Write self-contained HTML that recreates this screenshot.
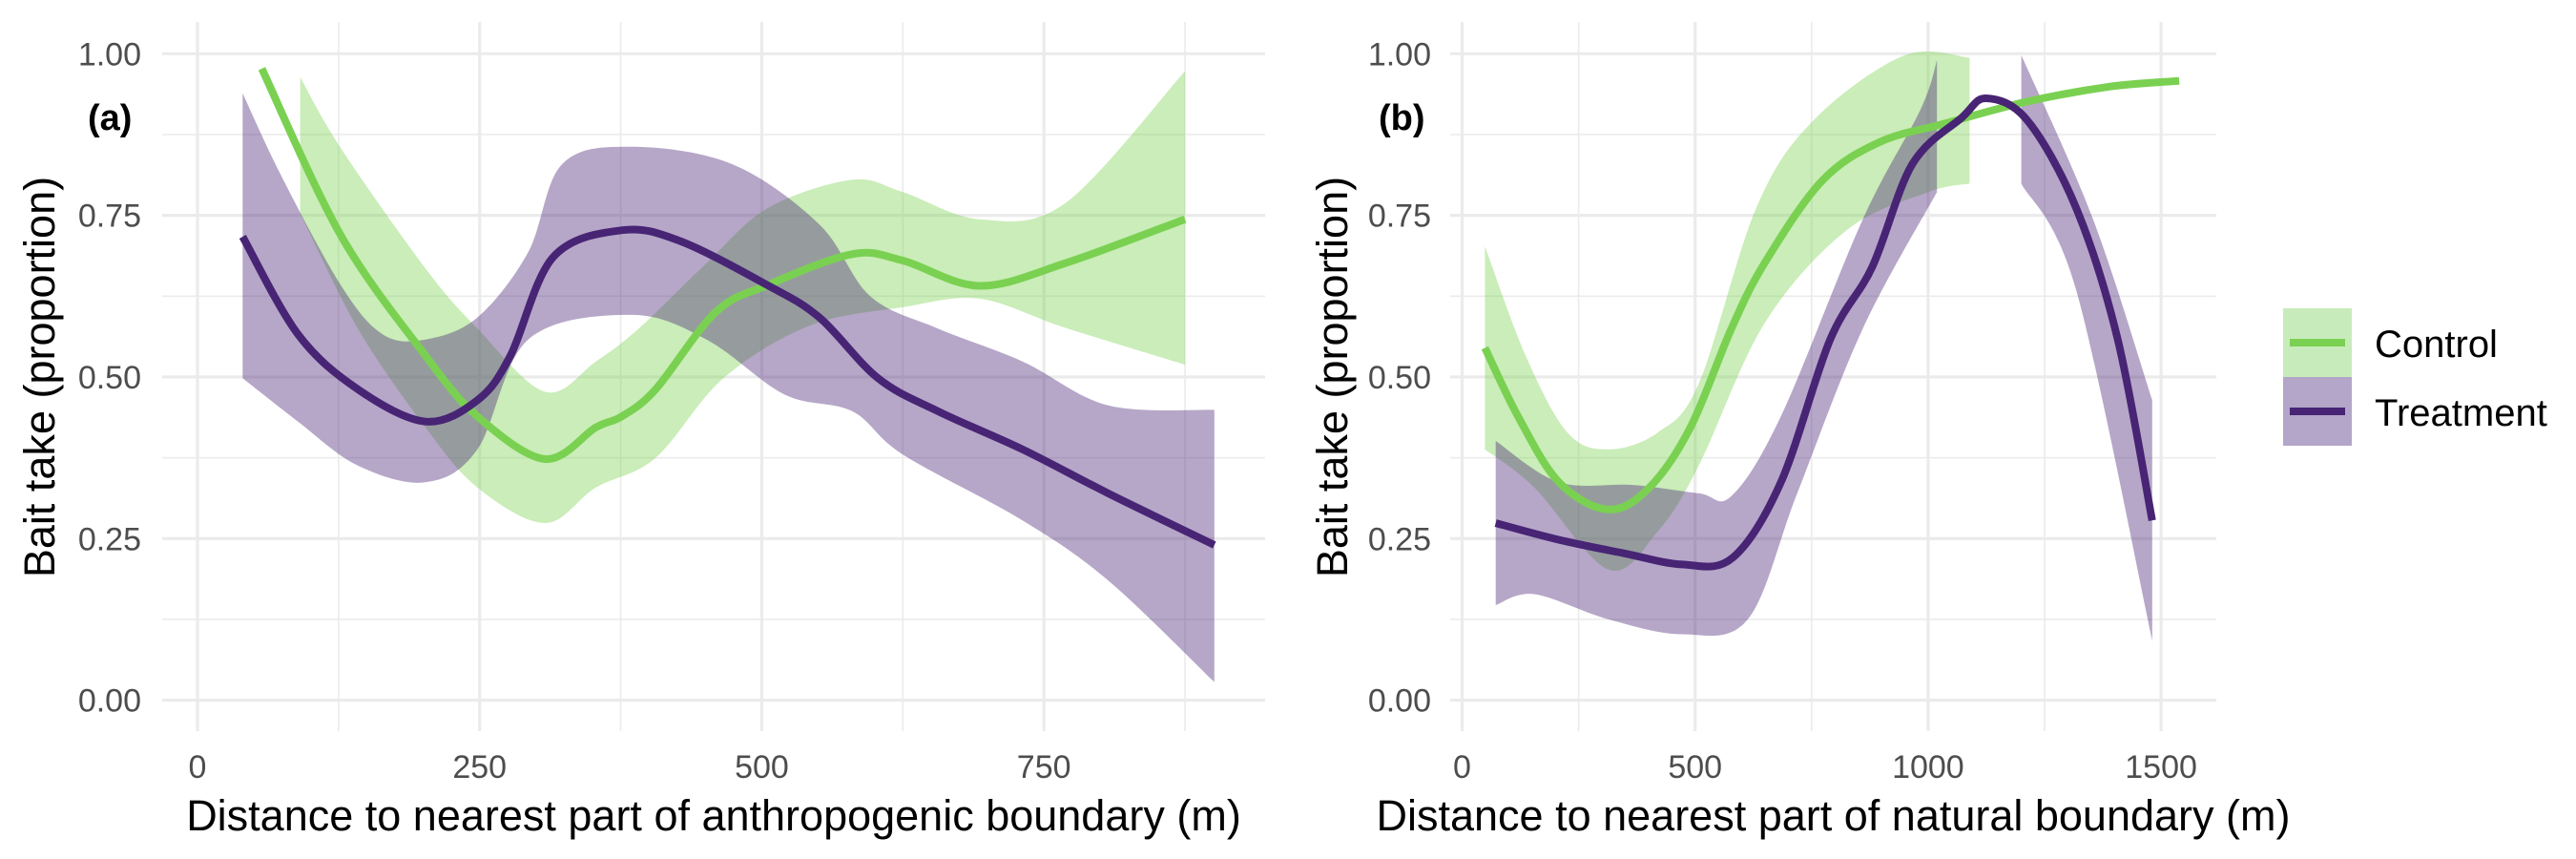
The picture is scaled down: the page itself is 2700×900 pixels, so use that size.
<!DOCTYPE html>
<html><head><meta charset="utf-8"><style>
html,body{margin:0;padding:0;background:#fff;}
svg{display:block;font-family:"Liberation Sans",sans-serif;}
</style></head><body>
<svg id="chart" width="2700" height="900" viewBox="0 0 2700 900">
<g id="pa"></g>
<g id="pb"></g>
<g>
  <rect x="2393" y="323" width="72" height="72" fill="#c8ebbb"/>
  <line x1="2400" x2="2458" y1="359" y2="359" stroke="#7AD151" stroke-width="8"/>
  <rect x="2393" y="395" width="72" height="72" fill="#b3a6c9"/>
  <line x1="2400" x2="2458" y1="431" y2="431" stroke="#482475" stroke-width="8"/>
  <text x="2489" y="374" font-size="40" fill="#000">Control</text>
  <text x="2489" y="446" font-size="40" fill="#000">Treatment</text>
</g>
</svg>
<script>
const NS="http://www.w3.org/2000/svg";
// Panel A data
const aCtrlX=[57,127,202,248,308,353,376,406,459,505,580,625,693,769,875];
const aCtrlY=[0.977,0.719,0.533,0.439,0.373,0.422,0.439,0.481,0.60,0.642,0.690,0.680,0.641,0.676,0.744];
const aCtrlUpX=[91,127,202,248,308,353,391,451,505,580,625,693,769,875];
const aCtrlUpY=[0.964,0.854,0.668,0.575,0.477,0.524,0.575,0.676,0.761,0.805,0.786,0.744,0.769,0.973];
const aCtrlLoX=[91,142,202,248,308,353,406,466,542,625,693,769,875];
const aCtrlLoY=[0.753,0.575,0.422,0.329,0.274,0.329,0.375,0.498,0.579,0.608,0.621,0.576,0.519];
const aTrtX=[40,89,142,202,248,277,315,376,428,505,551,603,656,731,807,901];
const aTrtY=[0.717,0.566,0.481,0.431,0.464,0.532,0.685,0.727,0.710,0.642,0.592,0.498,0.447,0.388,0.320,0.240];
const aTrtUpX=[40,74,127,164,202,248,293,323,384,474,551,596,656,731,807,901];
const aTrtUpY=[0.939,0.812,0.642,0.566,0.558,0.592,0.693,0.829,0.856,0.829,0.736,0.625,0.575,0.524,0.456,0.449];
const aTrtLoX=[40,89,142,202,248,293,384,451,520,580,625,731,807,901];
const aTrtLoY=[0.498,0.431,0.363,0.337,0.388,0.558,0.596,0.558,0.473,0.447,0.380,0.278,0.185,0.028];
// Panel B data
const bCtrlX=[49,120,208,314,402,490,578,649,772,895,1036,1213,1389,1539];
const bCtrlY=[0.545,0.439,0.337,0.295,0.329,0.422,0.575,0.676,0.803,0.863,0.892,0.926,0.949,0.958];
const bCtrlUpX=[49,137,226,314,420,508,631,754,948,1089];
const bCtrlUpY=[0.702,0.532,0.414,0.388,0.414,0.490,0.761,0.897,0.997,0.994];
const bCtrlLoX=[49,155,314,420,508,649,825,1001,1089];
const bCtrlLoY=[0.388,0.329,0.202,0.261,0.363,0.583,0.727,0.786,0.799];
const bTrtX=[72,208,349,472,580,684,790,880,966,1072,1125,1213,1318,1407,1481];
const bTrtY=[0.274,0.248,0.227,0.210,0.220,0.337,0.558,0.670,0.829,0.901,0.931,0.897,0.761,0.558,0.278];
const bTrtUp1X=[72,208,367,508,578,684,860,984,1019];
const bTrtUp1Y=[0.401,0.337,0.333,0.320,0.316,0.439,0.744,0.914,0.990];
const bTrtLo1X=[72,155,314,472,613,719,860,1019];
const bTrtLo1Y=[0.147,0.164,0.125,0.102,0.125,0.320,0.575,0.786];
const bTrtUp2X=[1200,1354,1481];
const bTrtUp2Y=[0.998,0.744,0.464];
const bTrtLo2X=[1200,1318,1481];
const bTrtLo2Y=[0.799,0.634,0.092];
const yTicks=[0,0.25,0.5,0.75,1];
const yTickLabels=["0.00","0.25","0.50","0.75","1.00"];
const aXTicks=[0,250,500,750];
const aXMinor=[125,375,625,875];
const bXTicks=[0,500,1000,1500];
const bXMinor=[250,750,1250];

function el(p,t,a){const e=document.createElementNS(NS,t);for(const k in a)e.setAttribute(k,a[k]);p.appendChild(e);return e;}
function smooth(pts){
  let d="M"+pts[0][0].toFixed(1)+","+pts[0][1].toFixed(1);
  for(let i=0;i<pts.length-1;i++){
    const p0=pts[Math.max(0,i-1)],p1=pts[i],p2=pts[i+1],p3=pts[Math.min(pts.length-1,i+2)];
    const c1=[p1[0]+(p2[0]-p0[0])/6,p1[1]+(p2[1]-p0[1])/6];
    const c2=[p2[0]-(p3[0]-p1[0])/6,p2[1]-(p3[1]-p1[1])/6];
    d+="C"+c1.map(v=>v.toFixed(1))+" "+c2.map(v=>v.toFixed(1))+" "+p2.map(v=>v.toFixed(1));
  }
  return d;
}
function drawPanel(g,cfg){
  const sx=v=>cfg.x0+v*cfg.kx, sy=v=>733.6-v*(733.6-56.3);
  const L=cfg.left,R=cfg.right,T=23,B=766;
  [0.125,0.375,0.625,0.875].forEach(v=>{const l=el(g,"line",{x1:L,x2:R,y1:sy(v),y2:sy(v),stroke:"#ebebeb","stroke-width":1.6});
    
    });
  cfg.xMinor.forEach(v=>{const l=el(g,"line",{x1:sx(v),x2:sx(v),y1:T,y2:B,stroke:"#ebebeb","stroke-width":1.6});
    
    });
  yTicks.forEach((v,i)=>{const l=el(g,"line",{x1:L,x2:R,y1:sy(v),y2:sy(v),stroke:"#ebebeb","stroke-width":3.2});
    
    
    const t=el(g,"text",{x:cfg.tickX,y:sy(v)+12,"text-anchor":"end","font-size":34,fill:"#4d4d4d"});t.textContent=yTickLabels[i];
    
    });
  cfg.xTicks.forEach(v=>{const l=el(g,"line",{x1:sx(v),x2:sx(v),y1:T,y2:B,stroke:"#ebebeb","stroke-width":3.2});
    
    
    const t=el(g,"text",{x:sx(v),y:815,"text-anchor":"middle","font-size":34,fill:"#4d4d4d"});t.textContent=v;
    
    });
  const band=(ux,uy,lx,ly,fill,name)=>{
    const up=ux.map((x,i)=>[sx(x),sy(uy[i])]);
    const lo=lx.map((x,i)=>[sx(x),sy(ly[i])]).reverse();
    let d=smooth(up)+" L"+lo[0][0]+","+lo[0][1]+smooth(lo).replace(/^M[^C]*/,"")+"Z";
    const p=el(g,"path",{d:d,fill:fill,"fill-opacity":0.4});
    
    
  };
  const line=(xs,ys,col,name)=>{
    const p=el(g,"path",{d:smooth(xs.map((x,i)=>[sx(x),sy(ys[i])])),fill:"none",stroke:col,"stroke-width":8,"stroke-linecap":"butt"});
    
    
  };
  cfg.bands.forEach(b=>band(...b));
  cfg.lines.forEach(b=>line(...b));
  const lab=el(g,"text",{x:cfg.labX,y:136,"font-size":38,"font-weight":"bold",fill:"#000"});lab.textContent=cfg.lab;
  
  
  const yt=el(g,"text",{x:0,y:0,"text-anchor":"middle","font-size":45,fill:"#000",transform:`translate(${cfg.ytX},395) rotate(-90)`});yt.textContent="Bait take (proportion)";
  
  
  const xt=el(g,"text",{x:(L+R)/2,y:870,"text-anchor":"middle","font-size":45,fill:"#000"});xt.textContent=cfg.xTitle;
  
  
}
const GF="#7AD151",PF="#482475";
drawPanel(document.getElementById("pa"),{x0:207,kx:1.1829,left:170,right:1326,tickX:148,labX:92,lab:"(a)",ytX:57,
  xTicks:aXTicks,xMinor:aXMinor,xTitle:"Distance to nearest part of anthropogenic boundary (m)",
  bands:[[aCtrlUpX,aCtrlUpY,aCtrlLoX,aCtrlLoY,GF,"control-ci-band"],[aTrtUpX,aTrtUpY,aTrtLoX,aTrtLoY,PF,"treatment-ci-band"]],
  lines:[[aCtrlX,aCtrlY,GF,"control-line"],[aTrtX,aTrtY,PF,"treatment-line"]]});
drawPanel(document.getElementById("pb"),{x0:1532.5,kx:0.4884,left:1520,right:2323,tickX:1500,labX:1445,lab:"(b)",ytX:1412,
  xTicks:bXTicks,xMinor:bXMinor,xTitle:"Distance to nearest part of natural boundary (m)",
  bands:[[bCtrlUpX,bCtrlUpY,bCtrlLoX,bCtrlLoY,GF,"control-ci-band"],[bTrtUp1X,bTrtUp1Y,bTrtLo1X,bTrtLo1Y,PF,"treatment-ci-band-1"],[bTrtUp2X,bTrtUp2Y,bTrtLo2X,bTrtLo2Y,PF,"treatment-ci-band-2"]],
  lines:[[bCtrlX,bCtrlY,GF,"control-line"],[bTrtX,bTrtY,PF,"treatment-line"]]});
</script>
</body></html>
